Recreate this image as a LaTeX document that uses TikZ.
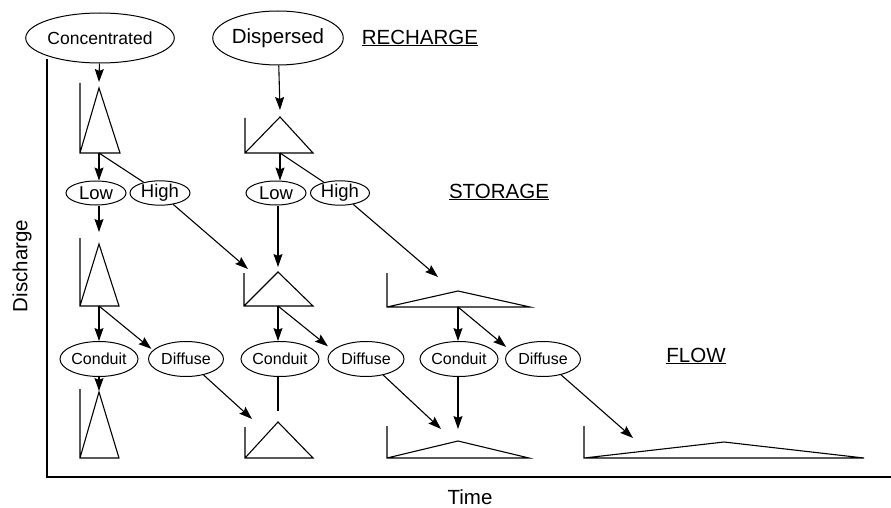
\documentclass[tikz,border=0pt]{standalone}
\usepackage{fontspec}
\setmainfont{Liberation Sans}
\usetikzlibrary{shapes.geometric,arrows.meta}
\begin{document}
\begin{tikzpicture}[x=1pt,y=-1pt,
  oval/.style={ellipse,draw,line width=1pt,inner sep=0pt},
  arr/.style={line width=1.1pt,-{Stealth[length=13pt,width=9pt,inset=2pt]}},
  plainline/.style={line width=1.1pt},
  hyd/.style={line width=1.1pt,line join=miter},
  axisline/.style={line width=1.3pt},
  title/.style={font=\fontsize{20.5}{24}\selectfont},
  fconc/.style={font=\fontsize{17.5}{20}\selectfont},
  fdisp/.style={font=\fontsize{20.5}{24}\selectfont},
  flh/.style={font=\fontsize{18.5}{21}\selectfont},
  fcd/.style={font=\fontsize{16}{19}\selectfont}]
\useasboundingbox (0,0) rectangle (891,508);

% axes
\coordinate (ytop) at (47,59);
\coordinate (orig) at (47,477);
\coordinate (xend) at (891,477);
\draw[axisline] (ytop) -- (orig) -- (xend);
\node[title,rotate=90] (ylab) at (22,266) {Discharge};
\node[title] (xlab) at (470,497) {Time};

% section titles
\node[title] (trech) at (420,38) {\underline{RECHARGE}};
\node[title] (tstor) at (499,192) {\underline{STORAGE}};
\node[title] (tflow) at (696,356) {\underline{FLOW}};

% ellipses
\node[oval,fconc,minimum width=119pt,minimum height=50pt] (conc) at (100,38) {Concentrated};
\node[oval,fdisp,minimum width=117pt,minimum height=54pt] (disp) at (278,38) {Dispersed};
\node[oval,flh,minimum width=60pt,minimum height=24pt] (low1) at (96,193) {Low};
\node[oval,flh,minimum width=60pt,minimum height=24pt] (high1) at (160,193) {High};
\node[oval,flh,minimum width=60pt,minimum height=24pt] (low2) at (276,193) {Low};
\node[oval,flh,minimum width=59pt,minimum height=24pt] (high2) at (340,193) {High};
\node[oval,fcd,minimum width=75pt,minimum height=35pt] (cond1) at (99,359) {Conduit};
\node[oval,fcd,minimum width=75pt,minimum height=35pt] (diff1) at (186,359) {Diffuse};
\node[oval,fcd,minimum width=76pt,minimum height=35pt] (cond2) at (280,359) {Conduit};
\node[oval,fcd,minimum width=76pt,minimum height=35pt] (diff2) at (366,359) {Diffuse};
\node[oval,fcd,minimum width=76pt,minimum height=35pt] (cond3) at (459,359) {Conduit};
\node[oval,fcd,minimum width=75pt,minimum height=35pt] (diff3) at (543,359) {Diffuse};

% hydrographs: axis line, base, falling limb, rising limb
% A
\draw[hyd] (80,83) -- (80,153) -- (120,153) -- (99,88) -- (80,153);
\coordinate (aBase) at (99,153); \coordinate (aTip) at (99,82);
% B
\draw[hyd] (245,118) -- (245,153) -- (313,153) -- (280,117) -- (245,153);
\coordinate (bBase) at (280,153); \coordinate (bTip) at (280,110);
% C
\draw[hyd] (80,238) -- (80,306) -- (119,306) -- (99,244) -- (80,306);
\coordinate (cBase) at (99,306); \coordinate (cTip) at (99,232);
% D
\draw[hyd] (244,273) -- (244,306) -- (313,306) -- (278,272) -- (244,306);
\coordinate (dBase) at (278,306); \coordinate (dTip) at (278,267); \coordinate (dTipH) at (248,269);
% E
\draw[hyd] (387,273) -- (387,307) -- (530,307) -- (458,291) -- (387,307);
\coordinate (eBase) at (458,307); \coordinate (eTip) at (438,277);
% F
\draw[hyd] (80,389) -- (80,458) -- (119,458) -- (99,392) -- (80,458);
\coordinate (fTip) at (99,391);
% G
\draw[hyd] (245,427) -- (245,458) -- (313,458) -- (278,422) -- (245,458);
\coordinate (gTop) at (278,411); \coordinate (gTip) at (252,419);
% H
\draw[hyd] (387,426) -- (387,458) -- (529,458) -- (458,441) -- (387,458);
\coordinate (hTip) at (458,429); \coordinate (hTipD) at (441,429);
% I
\draw[hyd] (584,426) -- (584,458) -- (864,458) -- (724,442) -- (584,458);
\coordinate (iTip) at (633,438);

% connectors
\draw[arr] (conc) -- (aTip);
\draw[arr] (disp) -- (bTip);
\draw[arr] (aBase) -- (aBase |- low1.north);
\draw[plainline] (aBase) -- (high1);
\draw[arr] (bBase) -- (bBase |- low2.north);
\draw[plainline] (bBase) -- (high2);
\draw[arr] (low1.south -| cTip) -- (cTip);
\draw[arr] (high1) -- (dTipH);
\draw[arr] (low2.south -| dTip) -- (dTip);
\draw[arr] (high2) -- (eTip);
\draw[arr] (cBase) -- (cBase |- cond1.north);
\draw[arr,shorten >=2pt] (cBase) -- (diff1.165);
\draw[arr] (dBase) -- (dBase |- cond2.north);
\draw[arr,shorten >=6pt] (dBase) -- (diff2.165);
\draw[arr] (eBase) -- (eBase |- cond3.north);
\draw[arr,shorten >=5pt] (eBase) -- (diff3.165);
\draw[arr] (cond1.south -| fTip) -- (fTip);
\draw[plainline] (cond2.south -| gTop) -- (gTop);
\draw[arr] (diff1) -- (gTip);
\draw[arr] (cond3.south -| hTip) -- (hTip);
\draw[arr] (diff2) -- (hTipD);
\draw[arr] (diff3) -- (iTip);
\end{tikzpicture}
\end{document}
